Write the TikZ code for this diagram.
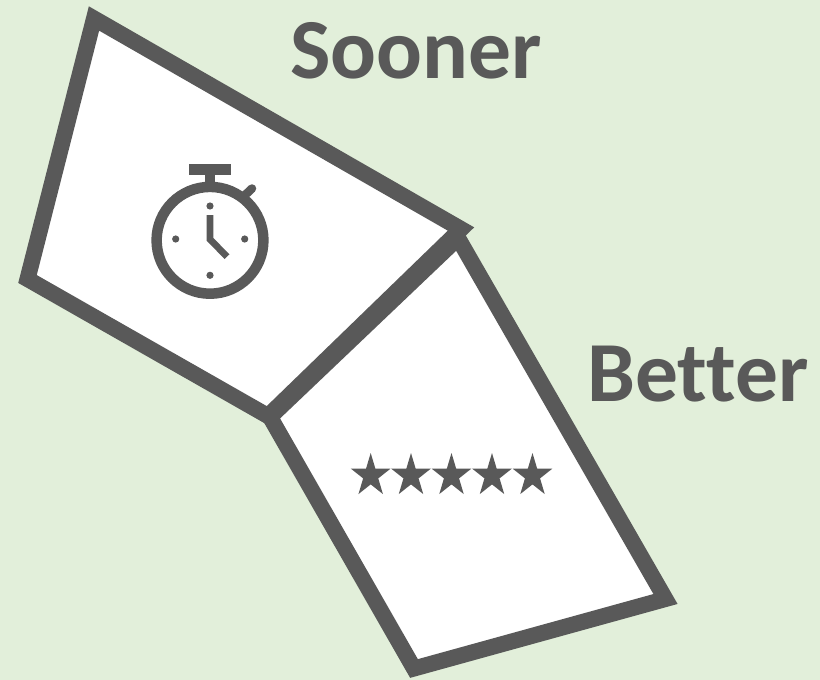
\documentclass[tikz,border=0pt]{standalone}
\usepackage{fontspec}
\setmainfont[Ligatures=NoCommon]{Carlito}
\definecolor{bgc}{HTML}{E2EFDA}
\definecolor{ink}{HTML}{595959}
\tikzset{
  panel/.style={draw=ink,fill=white,line width=16pt,line join=miter,miter limit=10},
  word/.style={text=ink,font=\bfseries\fontsize{85.5}{85.5}\selectfont,inner sep=0pt},
  hand/.style={draw=ink,line width=6.7pt,line cap=butt,line join=miter}
}
\begin{document}
\begin{tikzpicture}[x=1pt,y=-1pt]
\path[fill=bgc] (0,0) rectangle (820,680);
\useasboundingbox (0,0) rectangle (820,680);
\draw[panel] (94,18.5) -- (461,229) -- (268,416) -- (27.5,279) -- cycle;
\draw[panel] (458,238) -- (665.5,599) -- (414,668.5) -- (270,417) -- cycle;
\node[word,anchor=base] (sooner) at (416,78) {Sooner};
\node[word,anchor=base] (better) at (698,401) {Better};
% stopwatch
\draw[ink,line width=10.5pt] (210,240.3) circle (53.4);
\fill[ink] (189.3,164.3) rectangle (230.7,175);
\fill[ink] (205.3,175) rectangle (214.7,187);
\draw[ink,line width=8.5pt,line cap=round] (243,197) -- (252,188.5);
\foreach \p in {(210,206),(210,275.3),(175.7,239),(244.7,239)} \fill[ink] \p circle (3.6);
\draw[hand] (210,215) -- (210,239.3) -- (227,256.7);
% stars
\foreach \c in {370.7,411,451.5,492,532.5}{
  \fill[ink] plot[samples at={0,...,9}] ({\c+(mod(\x,2)==0 ? 20.8 : 7.95)*sin(36*\x)},{475.7-(mod(\x,2)==0 ? 22.7 : 8.67)*cos(36*\x)}) -- cycle;
}
\end{tikzpicture}
\end{document}
